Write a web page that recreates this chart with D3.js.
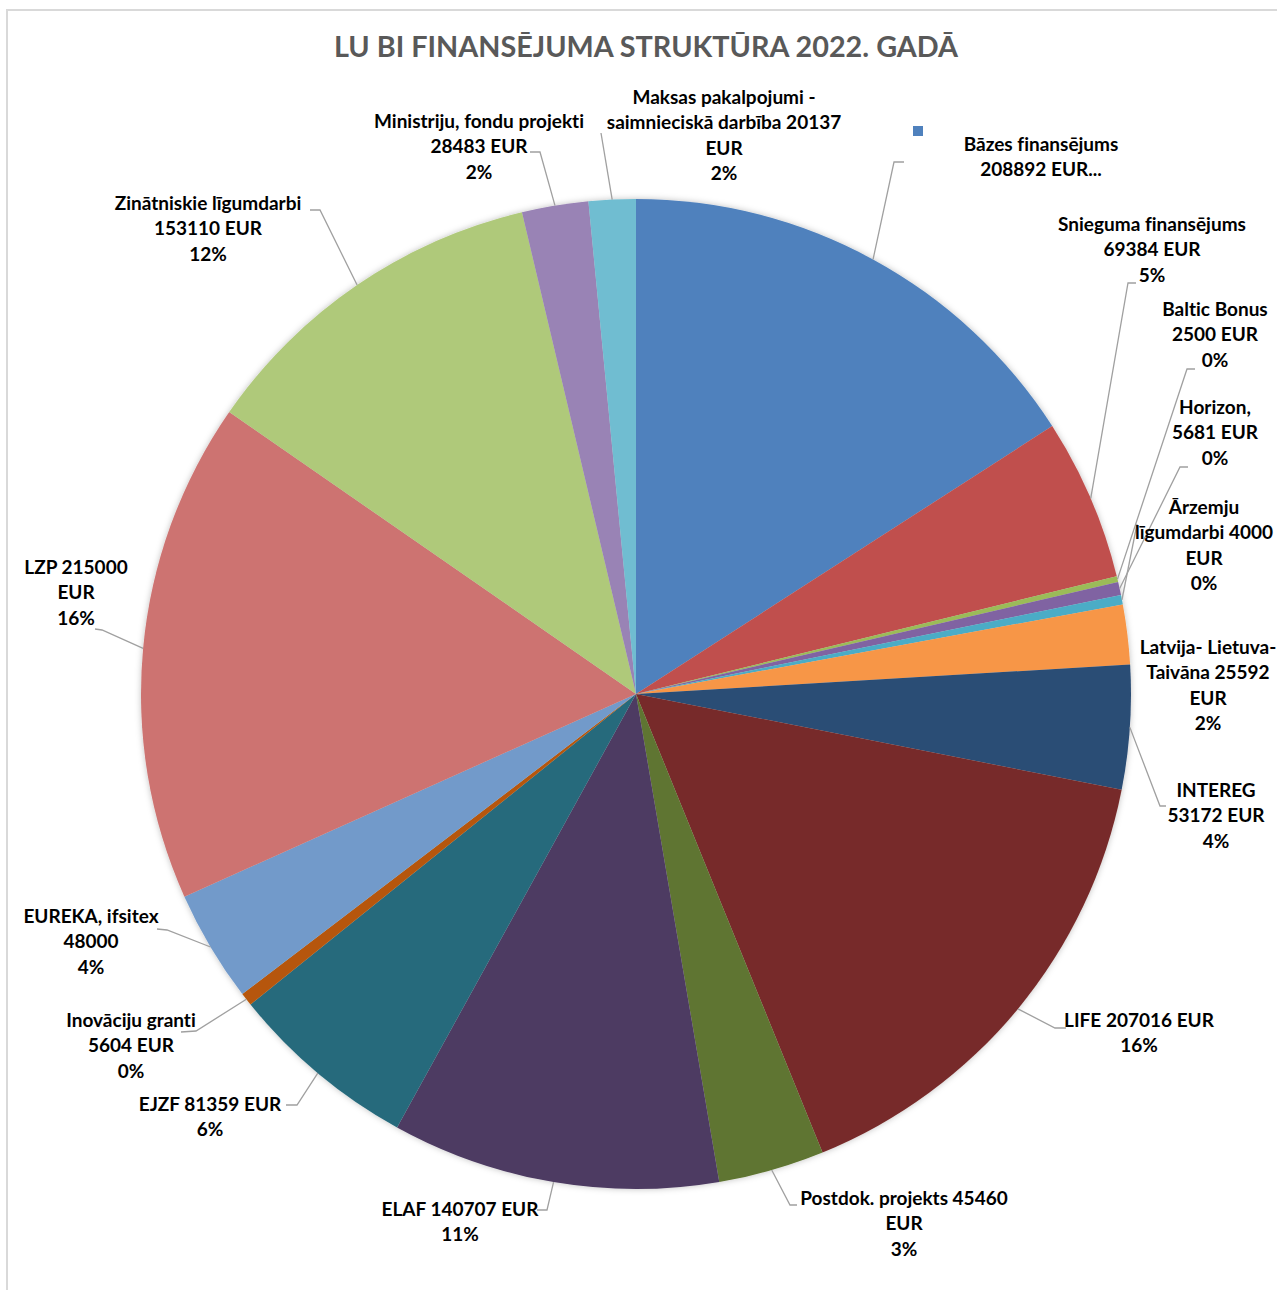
<!DOCTYPE html>
<html>
<head>
<meta charset="utf-8">
<script src="https://cdn.jsdelivr.net/npm/d3@7"></script>
<style>
  html, body { margin: 0; padding: 0; background: #fff; }
  svg { display: block; }
  text { font-family: Lato, "Open Sans", "DejaVu Sans", sans-serif; font-variant-ligatures: none; font-feature-settings: "liga" 0; }
</style>
</head>
<body>
<svg id="chart" width="1277" height="1290"></svg>
<script>
// ---- data ----
const categories = [
  "Bāzes finansējums", "Snieguma finansējums", "Baltic Bonus", "Horizon,", "Ārzemju līgumdarbi",
  "Latvija- Lietuva- Taivāna", "INTEREG", "LIFE", "Postdok. projekts", "ELAF", "EJZF",
  "Inovāciju granti", "EUREKA, ifsitex", "LZP", "Zinātniskie līgumdarbi",
  "Ministriju, fondu projekti", "Maksas pakalpojumi - saimnieciskā darbība"
];
const values = [208892, 69384, 2500, 5681, 4000, 25592, 53172, 207016, 45460, 140707, 81359,
  5604, 48000, 215000, 153110, 28483, 20137];
const labelLines = [
  ["Bāzes finansējums", "208892 EUR..."],
  ["Snieguma finansējums", "69384 EUR", "5%"],
  ["Baltic Bonus", "2500 EUR", "0%"],
  ["Horizon,", "5681 EUR", "0%"],
  ["Ārzemju", "līgumdarbi 4000", "EUR", "0%"],
  ["Latvija- Lietuva-", "Taivāna 25592", "EUR", "2%"],
  ["INTEREG", "53172 EUR", "4%"],
  ["LIFE 207016 EUR", "16%"],
  ["Postdok. projekts 45460", "EUR", "3%"],
  ["ELAF 140707 EUR", "11%"],
  ["EJZF 81359 EUR", "6%"],
  ["Inovāciju granti", "5604 EUR", "0%"],
  ["EUREKA, ifsitex", "48000", "4%"],
  ["LZP 215000", "EUR", "16%"],
  ["Zinātniskie līgumdarbi", "153110 EUR", "12%"],
  ["Ministriju, fondu projekti", "28483 EUR", "2%"],
  ["Maksas pakalpojumi -", "saimnieciskā darbība 20137", "EUR", "2%"]
];
const colors = ["#4F81BD", "#C0504D", "#9BBB59", "#8064A2", "#4BACC6", "#F79646", "#2C4D75",
  "#772C2A", "#5F7530", "#4D3B62", "#276A7C", "#B65708", "#729ACA", "#CD7371", "#AFC97A",
  "#9983B5", "#6FBDD1"];
const title = "LU BI FINANSĒJUMA STRUKTŪRA 2022. GADĀ";

// ---- layout (label placement: text center x, first line center y, leader bend points) ----
const labelLayout = [
  {x: 1041, y: 144, pts: [[894, 162], [904, 162]]},
  {x: 1152, y: 224, pts: [[1128, 283], [1136, 283]]},
  {x: 1215, y: 309, pts: [[1187, 369], [1195, 369]]},
  {x: 1215, y: 407, pts: [[1180, 467], [1188, 467]]},
  {x: 1204, y: 507, pts: [[1137, 524]]},
  {x: 1208, y: 647, pts: null},
  {x: 1216, y: 790, pts: [[1160, 806], [1166, 806]]},
  {x: 1139, y: 1020, pts: [[1055, 1028], [1066, 1028]]},
  {x: 904, y: 1198, pts: [[790, 1205], [797, 1205]]},
  {x: 460, y: 1209, pts: [[547, 1210], [537, 1210]]},
  {x: 210, y: 1104, pts: [[297, 1105], [286, 1105]]},
  {x: 131, y: 1020, pts: [[196, 1031], [181, 1032]]},
  {x: 91, y: 916, pts: [[167, 930], [157, 929]]},
  {x: 76, y: 567, pts: [[102, 630], [95, 629]]},
  {x: 208, y: 203, pts: [[320, 210], [310, 210]]},
  {x: 479, y: 121, pts: [[540, 152], [530, 152]]},
  {x: 724, y: 97, pts: [[601, 133]]}
];

const svg = d3.select("#chart");
const cx = 636, cy = 694, r = 495;

// border
svg.append("rect").attr("x", 7).attr("y", 10).attr("width", 1280).attr("height", 1300)
  .attr("fill", "#fff").attr("stroke", "#d9d9d9").attr("stroke-width", 2);

// shadow filter
const defs = svg.append("defs");
const f = defs.append("filter").attr("id", "sh").attr("x", "-10%").attr("y", "-10%")
  .attr("width", "120%").attr("height", "120%");
f.append("feDropShadow").attr("dx", 0).attr("dy", 0).attr("stdDeviation", 3)
  .attr("flood-color", "#000").attr("flood-opacity", 0.25);

// title
svg.append("text").attr("x", 646).attr("y", 57).attr("text-anchor", "middle")
  .attr("font-size", 28.8).attr("font-weight", "bold").attr("fill", "#595959").text(title);

const data = categories.map((c, i) => ({name: c, value: values[i], i}));
const pie = d3.pie().value(d => d.value).sort(null).startAngle(0).endAngle(2 * Math.PI);
const arcs = pie(data);
const arc = d3.arc().innerRadius(0).outerRadius(r);
const color = d3.scaleOrdinal().domain(categories).range(colors);

const g = svg.append("g").attr("transform", `translate(${cx},${cy})`);
g.append("g").attr("filter", "url(#sh)").selectAll("path").data(arcs).join("path")
  .attr("d", arc).attr("fill", d => color(d.data.name));

// leader lines
const line = d3.line();
arcs.forEach((a, i) => {
  const L = labelLayout[i];
  if (!L.pts) return;
  const mid = (a.startAngle + a.endAngle) / 2;
  const p0 = [cx + r * Math.sin(mid), cy - r * Math.cos(mid)];
  svg.append("path").attr("d", line([p0, ...L.pts])).attr("fill", "none")
    .attr("stroke", "#a0a0a0").attr("stroke-width", 1.3);
});

// labels
const lh = 25.4;
arcs.forEach((a, i) => {
  const L = labelLayout[i];
  const t = svg.append("text").attr("text-anchor", "middle").attr("font-size", 19)
    .attr("font-weight", "bold").attr("fill", "#000");
  labelLines[i].forEach((s, k) => {
    t.append("tspan").attr("x", L.x).attr("y", L.y + k * lh).attr("dy", "0.36em").text(s);
  });
});

// legend-style marker near first label
svg.append("rect").attr("x", 913).attr("y", 126).attr("width", 10).attr("height", 10)
  .attr("fill", color(categories[0]));
</script>
</body>
</html>
